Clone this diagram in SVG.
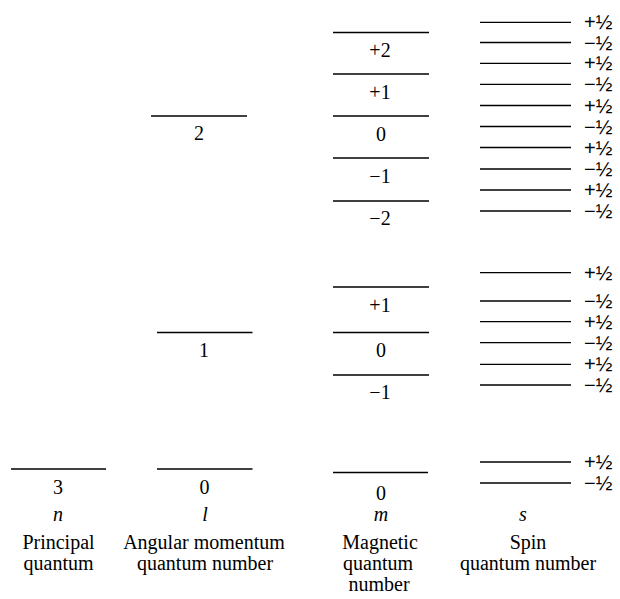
<svg xmlns="http://www.w3.org/2000/svg" width="620" height="599" viewBox="0 0 620 599">
<style>
line{stroke:#000;stroke-width:1.3}
text{fill:#000}
.t{text-anchor:middle}
</style>
<rect width="620" height="599" fill="#fff"/>
<g font-family="'Liberation Serif', 'Times New Roman', serif" font-size="20">
<g id="n-level">
<line x1="11" y1="469" x2="106" y2="469"/>
<text class="t" x="58" y="494">3</text>
</g>
<g id="l-levels">
<line x1="151" y1="116" x2="247" y2="116"/>
<text class="t" x="199" y="140">2</text>
<line x1="157" y1="332.5" x2="252.5" y2="332.5"/>
<text class="t" x="204" y="357">1</text>
<line x1="157" y1="469" x2="252.5" y2="469"/>
<text class="t" x="204.5" y="494">0</text>
</g>
<g id="m-levels">
<line x1="333" y1="32.5" x2="429" y2="32.5"/>
<text class="t" x="380" y="57">+2</text>
<line x1="333" y1="74" x2="429" y2="74"/>
<text class="t" x="380" y="99">+1</text>
<line x1="333" y1="116" x2="429" y2="116"/>
<text class="t" x="381" y="141">0</text>
<line x1="333" y1="158" x2="429" y2="158"/>
<text class="t" x="380" y="183">−1</text>
<line x1="333" y1="201" x2="429" y2="201"/>
<text class="t" x="380" y="225">−2</text>
<line x1="333" y1="287" x2="429" y2="287"/>
<text class="t" x="380" y="312">+1</text>
<line x1="333" y1="332.5" x2="429" y2="332.5"/>
<text class="t" x="381" y="357">0</text>
<line x1="333" y1="375" x2="429" y2="375"/>
<text class="t" x="380" y="399">−1</text>
<line x1="333" y1="472.5" x2="428" y2="472.5"/>
<text class="t" x="381" y="500">0</text>
</g>
<g id="labels">
<text class="t" font-style="italic" x="58" y="521">n</text>
<text class="t" x="58.5" y="549">Principal</text>
<text class="t" x="58.5" y="570">quantum</text>
<text class="t" font-style="italic" x="205" y="521">l</text>
<text class="t" x="204" y="549">Angular momentum</text>
<text class="t" x="205" y="570">quantum number</text>
<text class="t" font-style="italic" x="381" y="521">m</text>
<text class="t" x="380" y="549">Magnetic</text>
<text class="t" x="378" y="570">quantum</text>
<text class="t" x="379" y="591">number</text>
<text class="t" font-style="italic" x="523" y="521">s</text>
<text class="t" x="528" y="549">Spin</text>
<text class="t" x="528" y="570">quantum number</text>
</g>
</g>
<g id="s-levels" font-family="'Liberation Sans', Arial, sans-serif" font-size="20">
<line x1="480" y1="22.3" x2="571" y2="22.3"/><text x="584" y="29.3">+½</text>
<line x1="480" y1="42.5" x2="571" y2="42.5"/><text x="584" y="49.5">−½</text>
<line x1="480" y1="63.3" x2="571" y2="63.3"/><text x="584" y="70.3">+½</text>
<line x1="480" y1="84.3" x2="571" y2="84.3"/><text x="584" y="91.3">−½</text>
<line x1="480" y1="105.5" x2="571" y2="105.5"/><text x="584" y="112.5">+½</text>
<line x1="480" y1="126.5" x2="571" y2="126.5"/><text x="584" y="133.5">−½</text>
<line x1="480" y1="147.5" x2="571" y2="147.5"/><text x="584" y="154.5">+½</text>
<line x1="480" y1="169" x2="571" y2="169"/><text x="584" y="176">−½</text>
<line x1="480" y1="190" x2="571" y2="190"/><text x="584" y="197">+½</text>
<line x1="480" y1="211" x2="571" y2="211"/><text x="584" y="218">−½</text>
<line x1="480" y1="272.7" x2="571" y2="272.7"/><text x="584" y="279.7">+½</text>
<line x1="480" y1="301" x2="571" y2="301"/><text x="584" y="308">−½</text>
<line x1="480" y1="321.7" x2="571" y2="321.7"/><text x="584" y="328.7">+½</text>
<line x1="480" y1="342.7" x2="571" y2="342.7"/><text x="584" y="349.7">−½</text>
<line x1="480" y1="364.3" x2="571" y2="364.3"/><text x="584" y="371.3">+½</text>
<line x1="480" y1="385" x2="571" y2="385"/><text x="584" y="392">−½</text>
<line x1="480" y1="462" x2="571" y2="462"/><text x="584" y="469">+½</text>
<line x1="480" y1="483" x2="571" y2="483"/><text x="584" y="490">−½</text>
</g>
</svg>
